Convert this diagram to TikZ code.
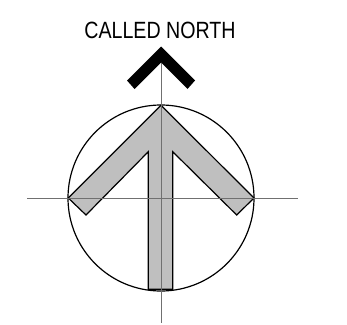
\documentclass[tikz,border=0pt]{standalone}
\usepackage{fontspec}
\setmainfont{Liberation Sans}
\tikzset{
  outline/.style={draw=black,line width=1.2pt,line join=miter},
  axis/.style={draw=black!56,line width=1pt},
  gray arrow/.style={outline,fill=black!25},
}
\begin{document}
\begin{tikzpicture}[x=1pt,y=-1pt]
\useasboundingbox (0,0) rectangle (347,324);
\coordinate (c) at (161,198);
% circle
\draw[outline] (c) circle[radius=93];
% gray arrow
\draw[gray arrow] (161,105.3) -- (254,198) -- (236.7,215) -- (172.7,151.7) -- (172.7,289.3)
  -- (148.3,289.3) -- (148.3,151.7) -- (86,215) -- (68.3,198) -- cycle;
% black chevron
\fill[black] (161,46.5) -- (195,80.5) -- (187.5,89) -- (161,62.5) -- (134.5,89) -- (127,80.5) -- cycle;
% axes
\coordinate (ht) at (161,63);
\coordinate (hb) at (161,323);
\coordinate (wl) at (27,198);
\coordinate (wr) at (298,198);
\draw[axis] (ht) -- (hb);
\draw[axis] (wl) -- (wr);
% label
\node[font=\fontsize{23.5}{28}\selectfont,inner sep=0pt,anchor=base,xscale=0.835] (lbl) at (160,38) {CALLED NORTH};
\end{tikzpicture}
\end{document}
